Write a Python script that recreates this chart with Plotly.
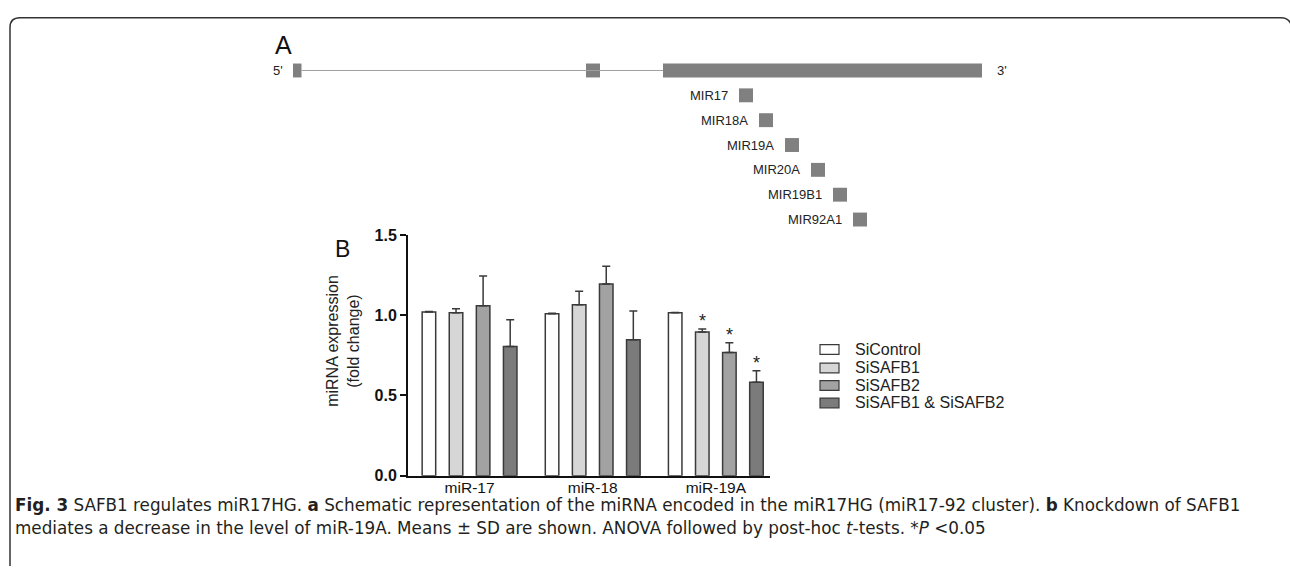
import plotly.graph_objects as go

W, H = 1290, 573

# ---------------- data ----------------
categories = ["miR-17", "miR-18", "miR-19A"]
series_names = ["SiControl", "SiSAFB1", "SiSAFB2", "SiSAFB1 & SiSAFB2"]
series_colors = ["#ffffff", "#d6d6d6", "#a2a2a2", "#7b7b7b"]
values = [
    [1.02, 1.01, 1.015],
    [1.015, 1.065, 0.895],
    [1.06, 1.195, 0.768],
    [0.805, 0.847, 0.582],
]
errors = [
    [0.003, 0.003, 0.003],
    [0.025, 0.085, 0.02],
    [0.185, 0.11, 0.06],
    [0.167, 0.18, 0.072],
]
significant = [
    [False, False, False],
    [False, False, True],
    [False, False, True],
    [False, False, True],
]
y_ticks = [0.0, 0.5, 1.0, 1.5]
y_tick_labels = ["0.0", "0.5", "1.0", "1.5"]

# schematic (gene structure, in schematic coordinate units)
exon_start = [293, 586, 663]
exon_end = [301.5, 600, 982]
intron_start = 301.5
intron_end = 663
mirna_names = ["MIR17", "MIR18A", "MIR19A", "MIR20A", "MIR19B1", "MIR92A1"]
mirna_start = [739, 759, 785, 811, 833, 853]
mirna_len = [14, 14, 14, 14, 14, 14]


def px(x):
    return x / W


def py(y):
    return 1 - y / H


fig = go.Figure()

# ---------------- bar chart B ----------------
for i, name in enumerate(series_names):
    fig.add_trace(go.Bar(
        x=categories, y=values[i], name=name,
        marker=dict(color=series_colors[i], line=dict(color="#3a3a3a", width=1.5)),
        error_y=dict(type="data", array=errors[i], arrayminus=[0] * len(errors[i]),
                     symmetric=False, color="#3a3a3a", thickness=1.5, width=4),
        xaxis="x", yaxis="y", showlegend=False,
    ))

# asterisks
n = len(series_names)
slot = (1 - 0.12) / n
annotations = []
for i in range(n):
    for g in range(len(categories)):
        if significant[i][g]:
            annotations.append(dict(
                x=g + (i - (n - 1) / 2) * slot, y=values[i][g] + errors[i][g],
                xref="x", yref="y", text="*", showarrow=False,
                yanchor="bottom", yshift=-4,
                font=dict(family="Liberation Sans", size=18, color="#222")))

# ---------------- schematic A ----------------
bar_y = [0] * len(exon_start) + list(range(1, len(mirna_names) + 1))
bar_base = exon_start + mirna_start
bar_len = [e - s for s, e in zip(exon_start, exon_end)] + mirna_len
fig.add_trace(go.Bar(
    y=bar_y, x=bar_len, base=bar_base, orientation="h", width=0.56,
    marker=dict(color="#808080", line=dict(width=0)),
    xaxis="x2", yaxis="y2", showlegend=False,
))
fig.add_trace(go.Scatter(
    x=[intron_start, intron_end], y=[0, 0], mode="lines",
    line=dict(color="#a0a0a0", width=1.2), xaxis="x2", yaxis="y2", showlegend=False,
))
sch_font = dict(family="Liberation Sans", size=13, color="#222")
for k, nm in enumerate(mirna_names):
    annotations.append(dict(x=mirna_start[k] - 9, y=k + 1, xref="x2", yref="y2",
                            text=nm, showarrow=False, xanchor="right", yanchor="middle",
                            font=sch_font))
annotations.append(dict(x=exon_start[0] - 8, y=0, xref="x2", yref="y2", text="5'",
                        showarrow=False, xanchor="right", yanchor="middle", font=sch_font))
annotations.append(dict(x=exon_end[-1] + 13, y=0, xref="x2", yref="y2", text="3'",
                        showarrow=False, xanchor="left", yanchor="middle", font=sch_font))

# panel letters
annotations.append(dict(x=px(283), y=py(38), xref="paper", yref="paper", text="A",
                        showarrow=False, xanchor="center", yanchor="middle",
                        font=dict(family="Liberation Sans", size=25, color="#111")))
annotations.append(dict(x=px(342), y=py(248), xref="paper", yref="paper", text="B",
                        showarrow=False, xanchor="center", yanchor="middle",
                        font=dict(family="Liberation Sans", size=23, color="#111")))

# y title
annotations.append(dict(x=px(343), y=py(343), xref="paper", yref="paper",
                        text="miRNA expression<br>(fold change)", textangle=-90,
                        showarrow=False, xanchor="center", yanchor="middle",
                        font=dict(family="Liberation Sans", size=16, color="#222")))

# custom legend
shapes = []
leg_y = [352, 371, 389, 407]
for i, name in enumerate(series_names):
    shapes.append(dict(type="rect", xref="paper", yref="paper",
                       x0=px(820), x1=px(839), y0=py(leg_y[i] - 5), y1=py(leg_y[i] + 5),
                       fillcolor=series_colors[i], line=dict(color="#3a3a3a", width=1.2)))
    annotations.append(dict(x=px(853), y=py(leg_y[i]), xref="paper", yref="paper",
                            text=name, showarrow=False, xanchor="left", yanchor="middle",
                            font=dict(family="Liberation Sans", size=16, color="#222")))

# frame
frame_path = (f"M {px(10)},{py(575)} L {px(10)},{py(20)} Q {px(10)},{py(10)} {px(20)},{py(10)} "
              f"L {px(1281)},{py(10)} Q {px(1290)},{py(10)} {px(1292)},{py(20)}")
shapes.append(dict(type="path", xref="paper", yref="paper", path=frame_path,
                   line=dict(color="#333", width=1.5)))

# caption
cap_font = dict(family="DejaVu Sans", size=16.8, color="#231f20")
annotations.append(dict(x=px(13), y=py(512.5), xref="paper", yref="paper", xanchor="left",
                        yanchor="middle", showarrow=False, align="left", font=cap_font,
                        text="<b>Fig. 3</b> SAFB1 regulates miR17HG. <b>a</b> Schematic representation of the miRNA encoded in the miR17HG (miR17-92 cluster). <b>b</b> Knockdown of SAFB1"))
annotations.append(dict(x=px(13), y=py(536), xref="paper", yref="paper", xanchor="left",
                        yanchor="middle", showarrow=False, align="left", font=cap_font,
                        text="mediates a decrease in the level of miR-19A. Means ± SD are shown. ANOVA followed by post-hoc <i>t</i>-tests. *<i>P</i> &lt;0.05"))

fig.update_layout(
    width=W, height=H, margin=dict(l=0, r=0, t=0, b=0),
    paper_bgcolor="white", plot_bgcolor="rgba(0,0,0,0)",
    barmode="group", bargap=0.12, bargroupgap=0.5,
    xaxis=dict(domain=[px(408), px(770)], range=[-0.5, 2.44], showgrid=False, zeroline=False,
               showline=True, linecolor="#111", linewidth=2, ticks="", ticklabelstandoff=-3,
               tickfont=dict(family="Liberation Sans", size=15.5, color="#111"), fixedrange=True),
    yaxis=dict(domain=[py(482), py(234)], range=[0, 1.5], tickvals=y_ticks, ticktext=y_tick_labels,
               showgrid=False, zeroline=False, showline=True, linecolor="#111", linewidth=2,
               ticks="outside", ticklen=6, tickwidth=2, tickcolor="#111",
               tickfont=dict(family="Liberation Sans", size=16, color="#111", weight="bold")),
    xaxis2=dict(domain=[0, 1], range=[0, W], visible=False, anchor="y2"),
    yaxis2=dict(domain=[py(230.8), py(51.6)], range=[6.5, -0.5], visible=False, anchor="x2"),
    shapes=shapes, annotations=annotations,
)

reset_css = ("var d=document.documentElement,b=document.body;"
             "d.style.margin='0';d.style.padding='0';d.style.overflow='hidden';"
             "b.style.margin='0';b.style.padding='0';b.style.overflow='hidden';")
fig.write_html("out.html", config={"displayModeBar": False}, post_script=reset_css)
